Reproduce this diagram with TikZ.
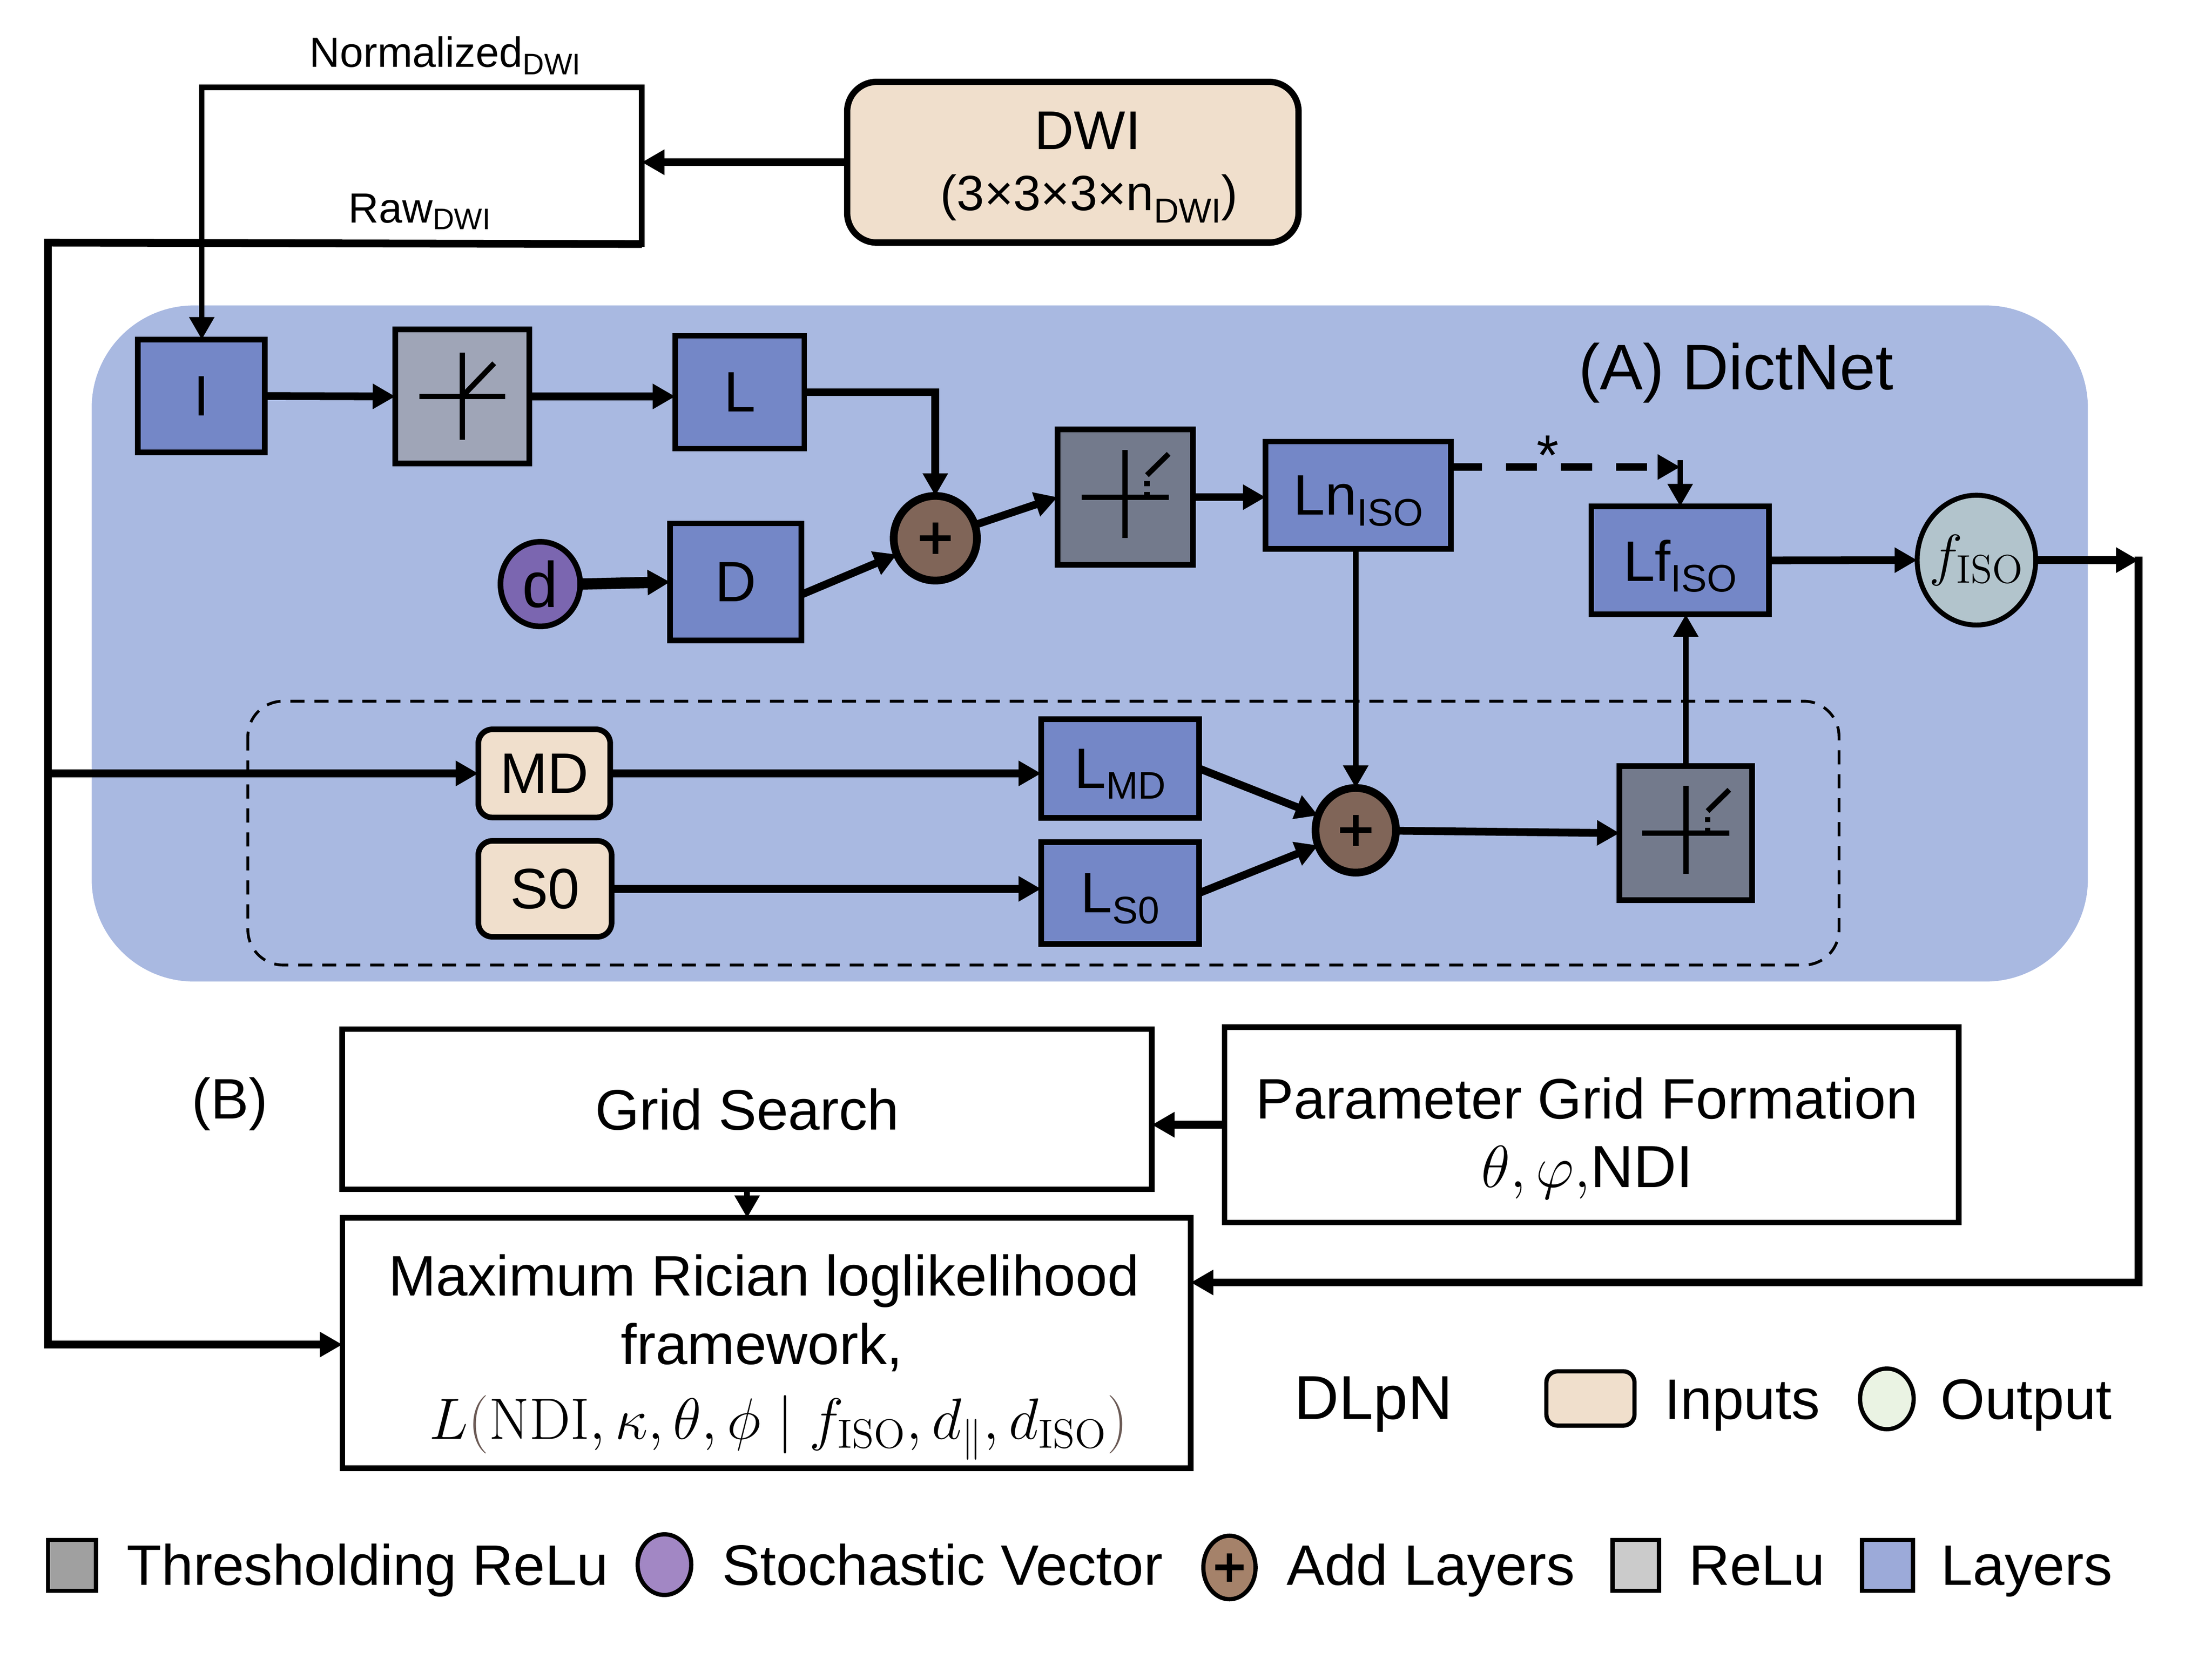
\documentclass[tikz,border=0pt]{standalone}
\usepackage{fix-cm}
\usepackage[no-math]{fontspec}
\setmainfont{Liberation Sans}
\usetikzlibrary{arrows.meta,shapes.geometric}
\definecolor{bgblue}{HTML}{A9B9E1}
\definecolor{layerblue}{HTML}{7487C7}
\definecolor{threshgray}{HTML}{737A8C}
\definecolor{relugray}{HTML}{9FA5B7}
\definecolor{peach}{HTML}{F0DFCC}
\definecolor{plusbrown}{HTML}{806558}
\definecolor{dpurple}{HTML}{7B66B0}
\definecolor{fisocol}{HTML}{B2C4CC}
\definecolor{leggray}{HTML}{A0A0A0}
\definecolor{legpurple}{HTML}{A287C4}
\definecolor{legbrown}{HTML}{A5826A}
\definecolor{legrelu}{HTML}{CBCBCB}
\definecolor{leglayer}{HTML}{9CAAD9}
\definecolor{legout}{HTML}{EAF3E3}
\definecolor{parcol}{HTML}{6B5A55}
\newcommand{\myfs}[1]{\fontsize{#1}{#1}\selectfont}
\newcommand{\mysub}[1]{\raisebox{-4.4pt}{\myfs{15.5}#1}}
\newcommand{\reluicon}[1]{%
 \draw[sicon] ([shift={(0,-31)}]#1.center) -- ([shift={(0,30.6)}]#1.center);
 \draw[sicon] ([shift={(-30.4,0)}]#1.center) -- ([shift={(30.5,0)}]#1.center);
 \draw[sicon] (#1.center) -- ([shift={(22.6,-23.5)}]#1.center);}
\newcommand{\threshicon}[1]{%
 \draw[sicon] ([shift={(0,-33.5)}]#1.center) -- ([shift={(0,28.8)}]#1.center);
 \draw[sicon] ([shift={(-31,0)}]#1.center) -- ([shift={(31,0)}]#1.center);
 \draw[sicon] ([shift={(15.4,-15.6)}]#1.center) -- ([shift={(30.8,-30.7)}]#1.center);
 \draw[sicon] ([shift={(15.4,0)}]#1.center) -- ([shift={(15.4,-3.7)}]#1.center);
 \draw[sicon] ([shift={(15.4,-7.8)}]#1.center) -- ([shift={(15.4,-11.4)}]#1.center);}
\newcommand{\plussign}[2]{%
 \draw[splus] ([shift={(-#2,0)}]#1.center) -- ([shift={(#2,0)}]#1.center);
 \draw[splus] ([shift={(0,-#2)}]#1.center) -- ([shift={(0,#2)}]#1.center);}
\begin{document}
\begin{tikzpicture}[x=0.02cm,y=-0.02cm,
 every node/.style={inner sep=0pt,outer sep=0pt},
 sbox/.style={draw,line width=0.08cm,rectangle},
 slayer/.style={sbox,fill=layerblue,font=\myfs{23},text depth=0pt},
 srelu/.style={sbox,fill=relugray},
 sthresh/.style={sbox,fill=threshgray},
 sinput/.style={sbox,fill=peach,rounded corners=0.2cm,font=\myfs{23},text depth=0pt},
 sadd/.style={draw,ellipse,line width=0.11cm,fill=plusbrown},
 swhite/.style={sbox,fill=white},
 stxt/.style={font=\myfs{23}},
 sarr/.style={-{Triangle[length=0.32cm,width=0.34cm]}},
 sthin/.style={line width=0.08cm},
 sthick/.style={line width=0.11cm},
 sicon/.style={line width=0.076cm},
 splus/.style={line width=0.08cm},
 sleg/.style={draw,line width=0.06cm}
]
\fill[white] (0,0) rectangle (1568,1185);
\useasboundingbox (0,0) rectangle (1568,1185);

% DictNet background
\fill[bgblue, rounded corners=1.45cm] (65,216.5) rectangle (1480,695.7);
\draw[line width=0.04cm, dash pattern=on 0.2cm off 0.14cm, rounded corners=0.5cm] (175.7,497) rectangle (1303.6,684);
\node[anchor=base, font=\myfs{26}] (titleA) at (1230.6,276) {(A) DictNet};

% top
\node[sbox, minimum width=6.24cm, minimum height=2.22cm] (split) at (299,117.5) {};
\node[sinput, rounded corners=0.42cm, line width=0.09cm, minimum width=6.4cm, minimum height=2.28cm] (dwi) at (760.5,115) {};
\node[anchor=base, font=\myfs{22}] (dwit) at (771,106) {DWI};
\node[anchor=base, font=\myfs{20}] (dwis) at (772,149) {(3×3×3×n\raisebox{-5pt}{\myfs{14}DWI})};
\node[anchor=base west, font=\myfs{17}] (normt) at (219.5,47.5) {Normalized\raisebox{-3.1pt}{\myfs{12}DWI}};
\node[anchor=base west, font=\myfs{17}] (rawt) at (247,158) {Raw\raisebox{-2.6pt}{\myfs{12}DWI}};

% DictNet nodes
\node[slayer, minimum width=1.8cm, minimum height=1.6cm] (I) at (142.7,280.7) {I};
\node[srelu, minimum width=1.9cm, minimum height=1.9cm] (relu) at (327.7,281) {};
\node[slayer, minimum width=1.83cm, minimum height=1.6cm] (L) at (524.4,278) {L};
\node[draw, ellipse, line width=0.08cm, fill=dpurple, minimum width=1.13cm, minimum height=1.2cm, font=\myfs{26}] (d) at (383,414) {d};
\node[slayer, minimum width=1.86cm, minimum height=1.66cm] (D) at (521.5,412.5) {D};
\node[sadd, minimum width=1.18cm, minimum height=1.2cm] (p1) at (663,381.5) {};
\node[sthresh, minimum width=1.92cm, minimum height=1.92cm] (t1) at (797.6,352.4) {};
\node[slayer, minimum width=2.63cm, minimum height=1.52cm] (Ln) at (962.8,351) {Ln\mysub{ISO}};
\node[slayer, minimum width=2.52cm, minimum height=1.53cm] (Lf) at (1191,397.2) {Lf\mysub{ISO}};
\node[draw, ellipse, line width=0.07cm, fill=fisocol, minimum width=1.68cm, minimum height=1.84cm] (fiso) at (1401,397) {};
\node[font=\myfs{23}] (fisot) at (fiso.center) {$f_{\mathrm{ISO}}$};
\node[anchor=base, font=\myfs{23}] (star) at (1097,336.5) {*};

\node[sinput, minimum width=1.87cm, minimum height=1.25cm] (MD) at (385.8,548.2) {MD};
\node[sinput, minimum width=1.89cm, minimum height=1.36cm] (S0) at (386.3,630) {S0};
\node[slayer, minimum width=2.24cm, minimum height=1.4cm] (LMD) at (794,544.7) {L\mysub{MD}};
\node[slayer, minimum width=2.24cm, minimum height=1.44cm] (LS0) at (794,633) {L\mysub{S0}};
\node[sadd, minimum width=1.14cm, minimum height=1.2cm] (p2) at (961,588.5) {};
\node[sthresh, minimum width=1.88cm, minimum height=1.9cm] (t2) at (1195,590.5) {};

\reluicon{relu}
\threshicon{t1}
\threshicon{t2}
\plussign{p1}{11}
\plussign{p2}{11}

% lower part
\node[anchor=base, font=\myfs{23}] (labB) at (163,793) {(B)};
\node[swhite, minimum width=11.48cm, minimum height=2.27cm, font=\myfs{23}] (grid) at (529.6,786.2) {Grid Search};
\node[swhite, minimum width=10.41cm, minimum height=2.77cm] (param) at (1128.2,797.2) {};
\node[anchor=base, font=\myfs{23}] (pt1) at (1124.8,793) {Parameter Grid Formation};
\node[anchor=base, font=\myfs{24}] (pt2) at (1125,841.6) {$\theta,\varphi,$NDI};
\node[swhite, minimum width=12.03cm, minimum height=3.55cm] (max) at (543.4,952) {};
\node[anchor=base, font=\myfs{23}] (mt1) at (541.5,918.5) {Maximum Rician loglikelihood};
\node[anchor=base, font=\myfs{23}] (mt2) at (540,967) {framework,};
\node[anchor=base, font=\myfs{23.5}] (mt3) at (552,1020) {$L\textcolor{parcol}{(}\mathrm{NDI},\kappa,\theta,\phi\mid f_{\mathrm{ISO}},d_{\parallel},d_{\mathrm{ISO}}\textcolor{parcol}{)}$};

% legend
\node[anchor=base west, font=\myfs{25}] (dlpn) at (917.5,1006) {DLpN};
\node[sleg, fill=peach, rounded corners=0.16cm, minimum width=1.25cm, minimum height=0.77cm] (leginp) at (1127.4,991.2) {};
\node[anchor=base west, font=\myfs{23}] (leginpt) at (1180,1006) {Inputs};
\node[sleg, ellipse, fill=legout, minimum width=0.76cm, minimum height=0.86cm] (legoutn) at (1337.5,991.5) {};
\node[anchor=base west, font=\myfs{23}] (legoutt) at (1375.7,1006) {Output};

\node[sleg, fill=leggray, minimum width=0.68cm, minimum height=0.72cm] (lg1) at (51,1109.5) {};
\node[anchor=base west, font=\myfs{23}] (lg1t) at (90,1123.5) {Thresholding ReLu};
\node[sleg, ellipse, fill=legpurple, minimum width=0.76cm, minimum height=0.86cm] (lg2) at (471,1109) {};
\node[anchor=base west, font=\myfs{23}] (lg2t) at (512,1123.5) {Stochastic Vector};
\node[sleg, ellipse, fill=legbrown, minimum width=0.74cm, minimum height=0.9cm] (lg3) at (871.5,1111) {};
\plussign{lg3}{10}
\node[anchor=base west, font=\myfs{23}] (lg3t) at (912,1123.5) {Add Layers};
\node[sleg, fill=legrelu, minimum width=0.66cm, minimum height=0.72cm] (lg4) at (1159.5,1109.5) {};
\node[anchor=base west, font=\myfs{23}] (lg4t) at (1197,1123.5) {ReLu};
\node[sleg, fill=leglayer, minimum width=0.72cm, minimum height=0.72cm] (lg5) at (1338,1109.5) {};
\node[anchor=base west, font=\myfs{23}] (lg5t) at (1376,1123.5) {Layers};

% connectors
\coordinate (lt) at (34,172);
\coordinate (lb) at (34,953);
\coordinate (dsh) at (1191,331);
\coordinate (rt) at (1516,397);
\coordinate (rb) at (1516,909);
\draw[sthick, sarr] (dwi.west) -- (dwi.west -| split.east);
\draw[sthin, sarr] (split.south west) -- (split.south west |- I.north);
\draw[sthick, sarr] (split.south east) -- (lt) -- (lb) -- (lb -| max.west);
\draw[sthick, sarr] (lt |- MD.west) -- (MD.west);
\draw[sthick, sarr] (I.east) -- (relu.west);
\draw[sthick, sarr] (relu.east) -- (relu.east -| L.west);
\draw[sthick, sarr] (L.east) -| (p1.north);
\draw[line width=0.16cm, sarr] (d.east) -- (D.west);
\draw[sthick, sarr] ([yshift=-0.18cm]D.east) -- (p1);
\draw[sthick, sarr] (p1) -- (t1.west);
\draw[sthick, sarr] (t1.east) -- (t1.east -| Ln.west);
\draw[line width=0.11cm, dash pattern=on 0.44cm off 0.34cm, sarr] (Ln.east |- dsh) -- (dsh);
\draw[sthin, sarr] ([yshift=0.1cm]dsh) -- (Lf.north);
\draw[sthin, sarr] (p2.north |- Ln.south) -- (p2.north);
\draw[sthick, sarr] (Lf.east) -- (fiso.west);
\draw[sthick, sarr] (fiso.east) -- (rt);
\draw[sthick, sarr] ([yshift=0.05cm]rt) -- (rb) -- (rb -| max.east);
\draw[sthick, sarr] (MD.east) -- (MD.east -| LMD.west);
\draw[sthick, sarr] (S0.east) -- (S0.east -| LS0.west);
\draw[sthick, sarr] (LMD.east) -- (p2);
\draw[sthick, sarr] (LS0.east) -- (p2);
\draw[sthick, sarr] (p2) -- (t2.west);
\draw[sthin, sarr] (t2.north) -- (t2.north |- Lf.south);
\draw[sthick, sarr] (param.west) -- (param.west -| grid.east);
\draw[sthin, sarr] (grid.south) -- (grid.south |- max.north);
\end{tikzpicture}
\end{document}
